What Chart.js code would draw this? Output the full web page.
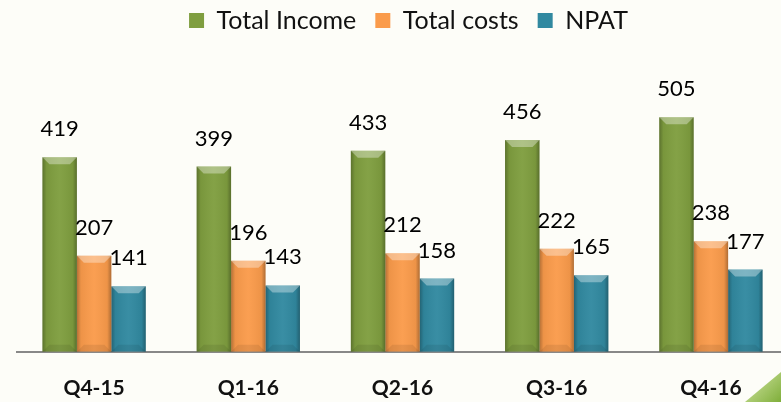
<!DOCTYPE html>
<html>
<head>
<meta charset="utf-8">
<script src="https://cdn.jsdelivr.net/npm/chart.js@4.4.0/dist/chart.umd.min.js"></script>
<style>
html,body{margin:0;padding:0;background:#fdfdf8;overflow:hidden;}
#wrap{position:relative;width:781px;height:402px;overflow:hidden;}
#box{width:790px;height:425px;}
#corner{position:absolute;right:0;bottom:0;width:36px;height:30px;
  background:linear-gradient(135deg,#d6e8a8,#7fae3a);
  clip-path:polygon(100% 0,100% 100%,0 100%);}
</style>
</head>
<body>
<div id="wrap">
<div id="box"><canvas id="finChart"></canvas></div>
<div id="corner"></div>
</div>
<script>
// quarters and figures
const quarters = ["Q4-15","Q1-16","Q2-16","Q3-16","Q4-16"];
const totalIncome = [419,399,433,456,505];
const totalCosts = [207,196,212,222,238];
const npat = [141,143,158,165,177];

const FONT = "Lato, 'Open Sans', sans-serif";

// bar shading: dark sides + light bevel on top
const bevelBars = {
    id:"bevelBars",
    afterLayout(chart){
        // nudge legend a little to the right like the original
        chart.legend.left += 6;
        chart.legend.right += 6;
    },
    afterDatasetsDraw(chart){
        const ctx = chart.ctx;
        chart.data.datasets.forEach((ds,i)=>{
            chart.getDatasetMeta(i).data.forEach(bar=>{
                const l = bar.x - bar.width/2, r = bar.x + bar.width/2;
                const t = bar.y, b = bar.base;
                ctx.save();
                const g = ctx.createLinearGradient(l,0,r,0);
                g.addColorStop(0,"rgba(0,0,0,0.28)");
                g.addColorStop(0.12,"rgba(0,0,0,0.05)");
                g.addColorStop(0.5,"rgba(255,255,255,0.04)");
                g.addColorStop(0.88,"rgba(0,0,0,0.05)");
                g.addColorStop(1,"rgba(0,0,0,0.30)");
                ctx.fillStyle = g;
                ctx.fillRect(l,t,r-l,b-t);
                const d = 7;
                ctx.beginPath();
                ctx.moveTo(l,t); ctx.lineTo(r,t);
                ctx.lineTo(r-d,t+d); ctx.lineTo(l+d,t+d); ctx.closePath();
                ctx.fillStyle = "rgba(255,255,255,0.35)";
                ctx.fill();
                ctx.beginPath();
                ctx.moveTo(l,b); ctx.lineTo(r,b);
                ctx.lineTo(r-d,b-d); ctx.lineTo(l+d,b-d); ctx.closePath();
                ctx.fillStyle = "rgba(0,0,0,0.08)";
                ctx.fill();
                ctx.restore();
            });
        });
    }
};

// value labels above bars
const valueLabels = {
    id:"valueLabels",
    afterDatasetsDraw(chart){
        const ctx = chart.ctx;
        ctx.save();
        ctx.font = "22px " + FONT;
        ctx.fillStyle = "#000";
        ctx.textAlign = "center";
        ctx.textBaseline = "bottom";
        chart.data.datasets.forEach((ds,i)=>{
            chart.getDatasetMeta(i).data.forEach((bar,j)=>{
                ctx.fillText(ds.data[j], bar.x, bar.y - 17);
            });
        });
        ctx.restore();
    }
};

new Chart(
document.getElementById("finChart"),
{
type:"bar",
data:{
    labels:quarters,
    datasets:[
        {label:"Total Income",data:totalIncome,backgroundColor:"#7f9e3f"},
        {label:"Total costs",data:totalCosts,backgroundColor:"#fa9b4b"},
        {label:"NPAT",data:npat,backgroundColor:"#3189a0"}
    ]
},
options:{
    responsive:true,
    maintainAspectRatio:false,
    animation:false,
    layout:{padding:{left:17,right:2,top:-11,bottom:0}},
    datasets:{bar:{categoryPercentage:0.67,barPercentage:1,borderWidth:0}},
    plugins:{
        tooltip:{enabled:false},
        legend:{
            position:"top",
            labels:{
                boxWidth:15,boxHeight:15,
                padding:19,
                color:"#111",
                font:{family:FONT,size:25}
            }
        },
        title:{display:true,text:"",weight:500,padding:{top:0,bottom:29},font:{size:1}}
    },
    scales:{
        x:{
            grid:{display:false,drawTicks:false},
            border:{display:true,color:"#888",width:2},
            ticks:{color:"#111",padding:24,font:{family:FONT,size:21,weight:"bold"}}
        },
        y:{display:false,min:0,max:600}
    }
}
,plugins:[bevelBars,valueLabels]
});
</script>
</body>
</html>
